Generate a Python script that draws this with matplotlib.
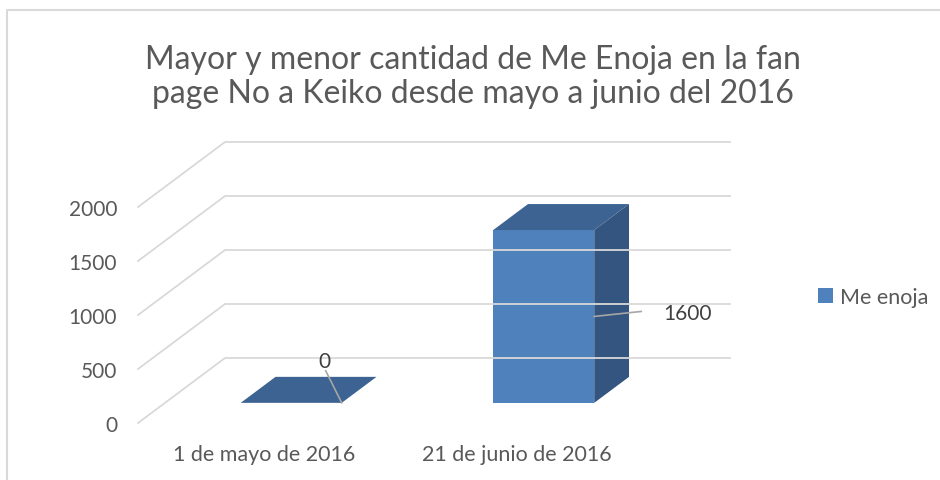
import matplotlib
matplotlib.use('Agg')  # no display needed
import matplotlib.pyplot as plt
from matplotlib.patches import Polygon, Patch
from matplotlib.lines import Line2D
from matplotlib.transforms import IdentityTransform

# data
categories = ['1 de mayo de 2016', '21 de junio de 2016']
values = [0, 1600]
series_name = 'Me enoja'
y_ticks = [0, 500, 1000, 1500, 2000]
title = ('Mayor y menor cantidad de Me Enoja en la fan\n'
         'page No a Keiko desde mayo a junio del 2016')

# look
W, H = 940, 481
FONT = 'Lato'
TEXT = '#595959'
GRID = '#d9d9d9'
FRONT = '#4f81bd'
TOP = '#3c6392'
SIDE = '#33557f'
DEPTH = (87, 65)        # pixel shift of the back wall (right, up)
Z0, Z1 = 0.31, 0.71     # depth range the bars occupy
HALF = 0.2              # half bar width in category units

# label offsets from the bar's front-right mid point (px, up positive)
label_offsets = [(-17, 42), (93, 3)]
leader_ends = [(-16, 32), (47, 5)]

fig = plt.figure(figsize=(W / 100, H / 100), dpi=100)
ax = fig.add_axes([138 / W, 1 - 424 / H, 505 / W, 216 / H])
ax.set_xlim(-0.5, len(categories) - 0.5)
ax.set_ylim(y_ticks[0], y_ticks[-1])
ax.patch.set_visible(False)
for s in ax.spines.values():
    s.set_visible(False)

ax.set_yticks(y_ticks)
ax.set_xticks(range(len(categories)))
ax.set_xticklabels(categories)
ax.tick_params(axis='y', length=0, pad=15, labelsize=15, labelcolor=TEXT)
ax.tick_params(axis='x', length=0, pad=15, labelsize=15.5, labelcolor=TEXT)
for lab in ax.get_xticklabels() + ax.get_yticklabels():
    lab.set_family(FONT)


def proj(x, y, z):
    px, py = ax.transData.transform((x, y))
    return px + z * DEPTH[0], py + z * DEPTH[1]


def add_poly(pts, color):
    fig.add_artist(Polygon([proj(*p) for p in pts], closed=True,
                           facecolor=color, edgecolor='none',
                           transform=IdentityTransform()))


def add_line(pts, color, lw):
    xs, ys = zip(*pts)
    fig.add_artist(Line2D(xs, ys, color=color, linewidth=lw,
                          transform=IdentityTransform()))


# side wall and back wall gridlines
x_lo, x_hi = ax.get_xlim()
for lv in y_ticks:
    add_line([proj(x_lo, lv, 0), proj(x_lo, lv, 1), proj(x_hi, lv, 1)], GRID, 1.3)

# 3d bars
for i, v in enumerate(values):
    l, r = i - HALF, i + HALF
    if v > 0:
        add_poly([(l, 0, Z0), (r, 0, Z0), (r, v, Z0), (l, v, Z0)], FRONT)
        add_poly([(r, 0, Z0), (r, 0, Z1), (r, v, Z1), (r, v, Z0)], SIDE)
    add_poly([(l, v, Z0), (r, v, Z0), (r, v, Z1), (l, v, Z1)], TOP)

    # data label with leader line
    ax0, ay0 = proj(r, v / 2, Z0)
    ox, oy = label_offsets[i]
    ex, ey = leader_ends[i]
    add_line([(ax0, ay0), (ax0 + ex, ay0 + ey)], '#a6a6a6', 1.2)
    fig.text((ax0 + ox) / W, (ay0 + oy) / H, f'{v}', ha='center', va='center',
             fontsize=15, color='#404040', family=FONT)

# title
fig.text(473 / W, 1 - 77 / H, title, ha='center', va='center',
         fontsize=23, color=TEXT, family=FONT, fontweight='normal',
         linespacing=1.2)

# legend
fig.legend(handles=[Patch(facecolor=FRONT)], labels=[series_name],
           loc='center left', bbox_to_anchor=(818 / W, 1 - 298 / H),
           frameon=False, borderpad=0, borderaxespad=0,
           handlelength=0.7, handleheight=0.7, handletextpad=0.3,
           prop={'family': FONT, 'size': 15.5}, labelcolor=TEXT)

# chart border
fig.add_artist(Line2D([6.5, 6.5, W], [0, H - 10.5, H - 10.5], color=GRID,
                      linewidth=1.5, transform=IdentityTransform()))

fig.savefig('out.png', dpi=100, facecolor='white')
